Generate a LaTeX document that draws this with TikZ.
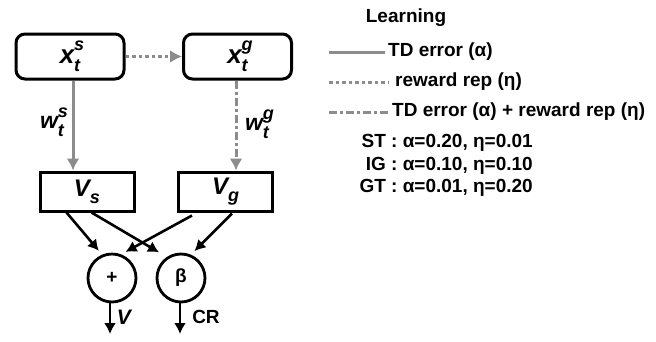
\documentclass[tikz,border=0pt]{standalone}
\usepackage{fontspec}
\setmainfont{Liberation Sans}
\usetikzlibrary{arrows.meta,calc}
\definecolor{lgray}{RGB}{140,140,140}
% bold italic symbol with superscript and subscript
\newcommand{\symss}[3]{{\itshape #1\rlap{\raisebox{0.5em}{\fontsize{18}{18}\selectfont #2}}\raisebox{-0.32em}{\fontsize{18}{18}\selectfont #3}}}
\newcommand{\symsub}[2]{{\itshape #1\raisebox{-0.3em}{\fontsize{18}{18}\selectfont #2}}}
\begin{document}
\begin{tikzpicture}[x=1pt,y=-1pt,
  font=\bfseries\fontsize{19}{22}\selectfont,
  rbox/.style={draw,line width=3pt,rounded corners=9pt,minimum width=108pt,minimum height=45pt,inner sep=0pt,font=\bfseries\fontsize{26}{26}\selectfont},
  vbox/.style={draw,line width=3pt,minimum width=94pt,minimum height=39pt,inner sep=0pt,font=\bfseries\fontsize{24}{24}\selectfont},
  opnode/.style={draw,circle,line width=2.8pt,minimum size=48pt,inner sep=0pt,font=\bfseries\fontsize{19}{19}\selectfont},
  tdline/.style={draw=lgray,line width=3pt},
  repline/.style={draw=lgray,line width=3pt,dash pattern=on 3.5pt off 3pt},
  bothline/.style={draw=lgray,line width=3pt,dash pattern=on 8pt off 3pt on 3pt off 3pt},
  garrow/.style={-{Latex[length=12pt,width=13pt]}},
  karrow/.style={draw=black,line width=2.6pt,-{Latex[length=11pt,width=12pt]}},
  lbl/.style={inner sep=0pt}]
\useasboundingbox (0,0) rectangle (656,341);

% state representations
\node[rbox] (xs) at (70,56.5) {\symss{x}{s}{t}};
\node[rbox] (xg) at (237.5,56.5) {\symss{x}{g}{t}};

% value nodes
\node[vbox] (Vs) at (87,191.5) {\symsub{V}{s}};
\node[vbox] (Vg) at (225.5,191.5) {\symsub{V}{g}};

% combination nodes
\node[opnode] (plus) at (112,278) {+};
\node[opnode] (beta) at (181,278) {β};

% learning connectors
\draw[repline,garrow] (xs.east) -- (xg.west);
\draw[tdline,garrow] ([xshift=3pt]xs.south) -- ([xshift=3pt]xs.south |- Vs.north);
\draw[bothline,garrow] ([xshift=-1.5pt]xg.south) -- ([xshift=-1.5pt]xg.south |- Vg.north);
\node[lbl,font=\bfseries\fontsize{23}{23}\selectfont] (ws) at (52,122) {\symss{w}{s}{t}};
\node[lbl,font=\bfseries\fontsize{23}{23}\selectfont] (wg) at (257,124) {\symss{w}{g}{t}};

% value combination
\draw[karrow,shorten >=5pt] ([xshift=28pt]Vs.south west) -- (plus.113);
\draw[karrow,shorten >=9pt] ([xshift=53pt]Vs.south west) -- (beta.124);
\draw[karrow,shorten >=5pt] ([xshift=15pt,yshift=-3pt]Vg.south west) -- (plus.69);
\draw[karrow,shorten >=5pt] ([xshift=55pt,yshift=-1pt]Vg.south west) -- (beta.67);

% outputs
\coordinate (vout) at (110,334);
\coordinate (crout) at (180,334);
\draw[karrow] (plus.south -| vout) -- (vout);
\draw[karrow] (beta.south -| crout) -- (crout);
\node[lbl,font=\bfseries\itshape\fontsize{21}{21}\selectfont] (vlab) at (124,317) {V};
\node[lbl] (crlab) at (206,317) {CR};

% legend
\node[lbl] (learn) at (406,18) {Learning};
\node[lbl,anchor=west] (td) at (388,52) {TD error (α)};
\node[lbl,anchor=west] (rep) at (395,82) {reward rep (η)};
\node[lbl,anchor=west] (both) at (392,112) {TD error (α) + reward rep (η)};
\coordinate (l1) at (329,52);
\coordinate (l2) at (329,82);
\coordinate (l3) at (329,112);
\draw[tdline] (l1) -- ([xshift=-3pt]td.west);
\draw[repline] (l2) -- ([xshift=-6pt]rep.west);
\draw[bothline] (l3) -- ([xshift=-3pt]both.west);
\node[lbl,anchor=east] (st) at (533,143) {ST : α=0.20, η=0.01};
\node[lbl,anchor=east] (ig) at (533,165.5) {IG : α=0.10, η=0.10};
\node[lbl,anchor=east] (gt) at (533,188) {GT : α=0.01, η=0.20};
\end{tikzpicture}
\end{document}
